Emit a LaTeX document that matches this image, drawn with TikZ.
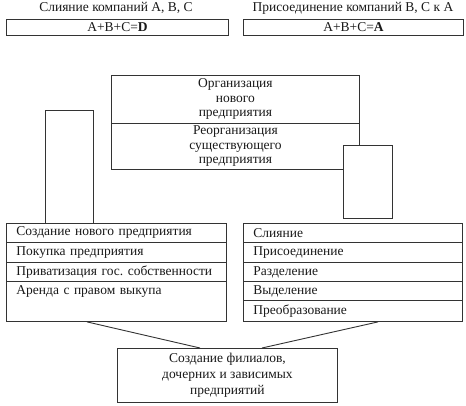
\documentclass[tikz,border=0pt]{standalone}
\usepackage{fontspec}
\setmainfont{Liberation Serif}
\usetikzlibrary{calc}
\frenchspacing
\begin{document}
\begin{tikzpicture}[x=1pt,y=-1pt,
  ln/.style={draw=black!80,line width=0.9pt},
  txt/.style={font=\fontsize{13.5}{14.5}\selectfont,text=black!90},
  cbox/.style={ln,txt,inner sep=0pt,align=center,anchor=north west},
  row/.style={ln,txt,inner ysep=0pt,inner xsep=10pt,align=left,anchor=north west},
  blank/.style={ln,fill=white,inner sep=0pt,anchor=north west}]
\useasboundingbox (0,0) rectangle (466,406);
% top
\node[txt] (t1) at (116,8) {Слияние компаний А, В, С};
\node[txt] (t2) at (353,8) {Присоединение компаний В, С к А};
\node[cbox,minimum width=222pt,minimum height=16pt] (fd) at (6,19) {A+B+C=\textbf{D}};
\node[cbox,minimum width=220pt,minimum height=16pt] (fa) at (243,19) {A+B+C=\textbf{A}};
% middle
\node[cbox,minimum width=248pt,minimum height=48pt] (org) at (111,75) {Организация\\нового\\предприятия};
\node[cbox,minimum width=248pt,minimum height=46pt] (reorg) at (111,123) {Реорганизация\\существующего\\предприятия};
\node[blank,minimum width=48pt,minimum height=113pt] (lsmall) at (45,110) {};
\node[blank,minimum width=49pt,minimum height=73pt] (rsmall) at (343,145) {};
% left list
\node[row,text width=200pt,minimum height=19pt] (l1) at (6,223) {Создание нового предприятия};
\node[row,text width=200pt,minimum height=20pt] (l2) at (6,242) {Покупка предприятия};
\node[row,text width=200pt,minimum height=19pt] (l3) at (6,262) {Приватизация гос. собственности};
\node[row,text width=200pt,text height=13pt,text depth=27pt] (l4) at (6,281) {Аренда с правом выкупа};
% right list
\node[row,text width=199pt,minimum height=19pt] (r1) at (243,223) {Слияние};
\node[row,text width=199pt,minimum height=20pt] (r2) at (243,242) {Присоединение};
\node[row,text width=199pt,minimum height=19pt] (r3) at (243,262) {Разделение};
\node[row,text width=199pt,minimum height=19pt] (r4) at (243,281) {Выделение};
\node[row,text width=199pt,minimum height=21pt] (r5) at (243,300) {Преобразование};
% bottom
\node[cbox,minimum width=220pt,minimum height=54pt,font=\fontsize{13.5}{16}\selectfont] (bot) at (117,348) {Создание филиалов,\\дочерних и зависимых\\предприятий};
% connectors
\coordinate (ls) at ($(l4.south west)+(81,0)$);
\coordinate (le) at ($(bot.north west)+(83,0)$);
\coordinate (rs) at ($(r5.south west)+(135,0)$);
\coordinate (re) at ($(bot.north west)+(145,0)$);
\draw[ln] (ls) -- (le);
\draw[ln] (rs) -- (re);
\end{tikzpicture}
\end{document}
